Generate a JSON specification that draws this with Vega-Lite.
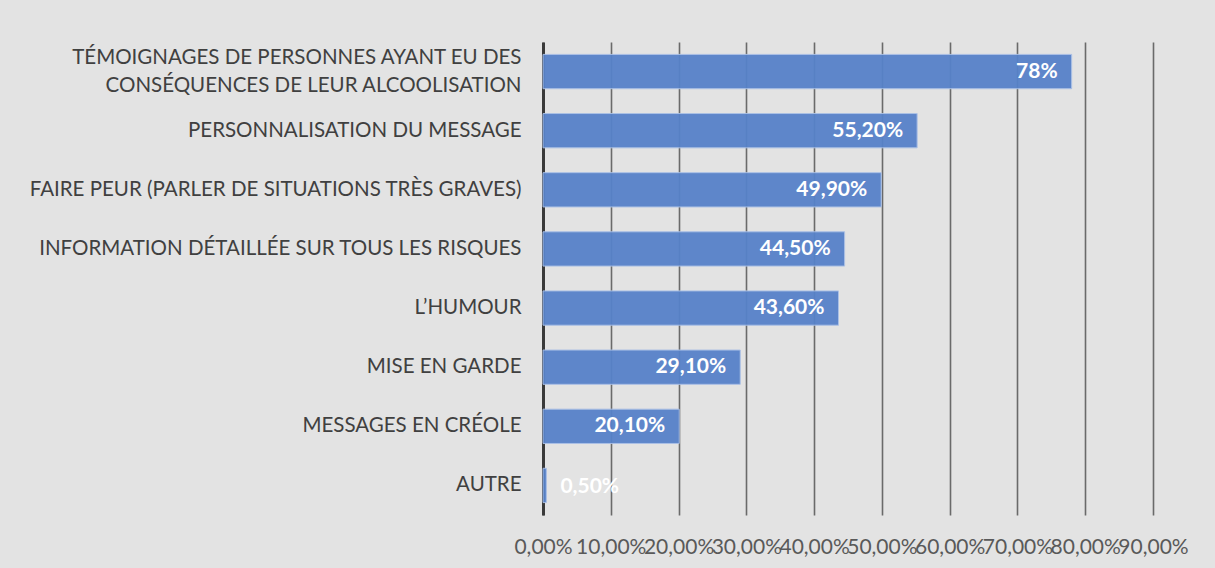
{
  "$schema": "https://vega.github.io/schema/vega-lite/v6.json",
  "width": 610,
  "height": 473,
  "autosize": {"type": "none"},
  "padding": {"left": 543, "top": 42, "right": 62, "bottom": 53},
  "background": "#e3e3e3",
  "config": {
    "view": {"stroke": null},
    "font": "Lato",
    "locale": {
      "number": {
        "decimal": ",",
        "thousands": "\u00a0",
        "grouping": [3],
        "currency": ["", "\u00a0€"],
        "percent": "%"
      }
    }
  },
  "data": {
    "values": [
      {"cat": "TÉMOIGNAGES DE PERSONNES AYANT EU DES|CONSÉQUENCES DE LEUR ALCOOLISATION", "value": 0.78, "label": "78%"},
      {"cat": "PERSONNALISATION DU MESSAGE", "value": 0.552, "label": "55,20%"},
      {"cat": "FAIRE PEUR (PARLER DE SITUATIONS TRÈS GRAVES)", "value": 0.499, "label": "49,90%"},
      {"cat": "INFORMATION DÉTAILLÉE SUR TOUS LES RISQUES", "value": 0.445, "label": "44,50%"},
      {"cat": "L’HUMOUR", "value": 0.436, "label": "43,60%"},
      {"cat": "MISE EN GARDE", "value": 0.291, "label": "29,10%"},
      {"cat": "MESSAGES EN CRÉOLE", "value": 0.201, "label": "20,10%"},
      {"cat": "AUTRE", "value": 0.005, "label": "0,50%"}
    ]
  },
  "encoding": {
    "y": {
      "field": "cat",
      "type": "nominal",
      "sort": null,
      "scale": {"paddingInner": 0.42, "paddingOuter": 0.21},
      "axis": {
        "title": null,
        "labelExpr": "split(datum.label, '|')",
        "labelFontSize": 20.5,
        "labelColor": "#404040",
        "labelPadding": 22,
        "labelLineHeight": 28,
        "labelOffset": {"condition": {"test": "indexof(datum.label, '|') >= 0", "value": -14}, "value": 0},
        "labelLimit": 600,
        "ticks": false,
        "domainColor": "#3a3a3a",
        "domainWidth": 3,
        "grid": false
      }
    },
    "x": {
      "field": "value",
      "type": "quantitative",
      "scale": {"domain": [0, 0.9], "nice": false},
      "axis": {
        "title": null,
        "values": [0, 0.1, 0.2, 0.3, 0.4, 0.5, 0.6, 0.7, 0.8, 0.9],
        "format": ".2%",
        "labelFontSize": 21,
        "labelColor": "#595959",
        "labelOverlap": false,
        "labelFlush": false,
        "labelPadding": 21,
        "labelBaseline": "top",
        "domain": false,
        "ticks": false,
        "grid": true,
        "gridColor": "#6a6a6a",
        "gridWidth": 1.6
      }
    }
  },
  "layer": [
    {
      "mark": {"type": "bar", "color": "#5782c9", "opacity": 0.95, "stroke": "#a9bfe6", "strokeWidth": 1}
    },
    {
      "transform": [{"filter": "datum.value > 0.05"}],
      "mark": {"type": "text", "align": "right", "dx": -14, "color": "white", "fontWeight": "bold", "fontSize": 21},
      "encoding": {"text": {"field": "label"}}
    },
    {
      "transform": [{"filter": "datum.value <= 0.05"}],
      "mark": {"type": "text", "align": "left", "dx": 14, "dy": 2, "color": "white", "fontWeight": "bold", "fontSize": 21},
      "encoding": {"text": {"field": "label"}}
    }
  ]
}
